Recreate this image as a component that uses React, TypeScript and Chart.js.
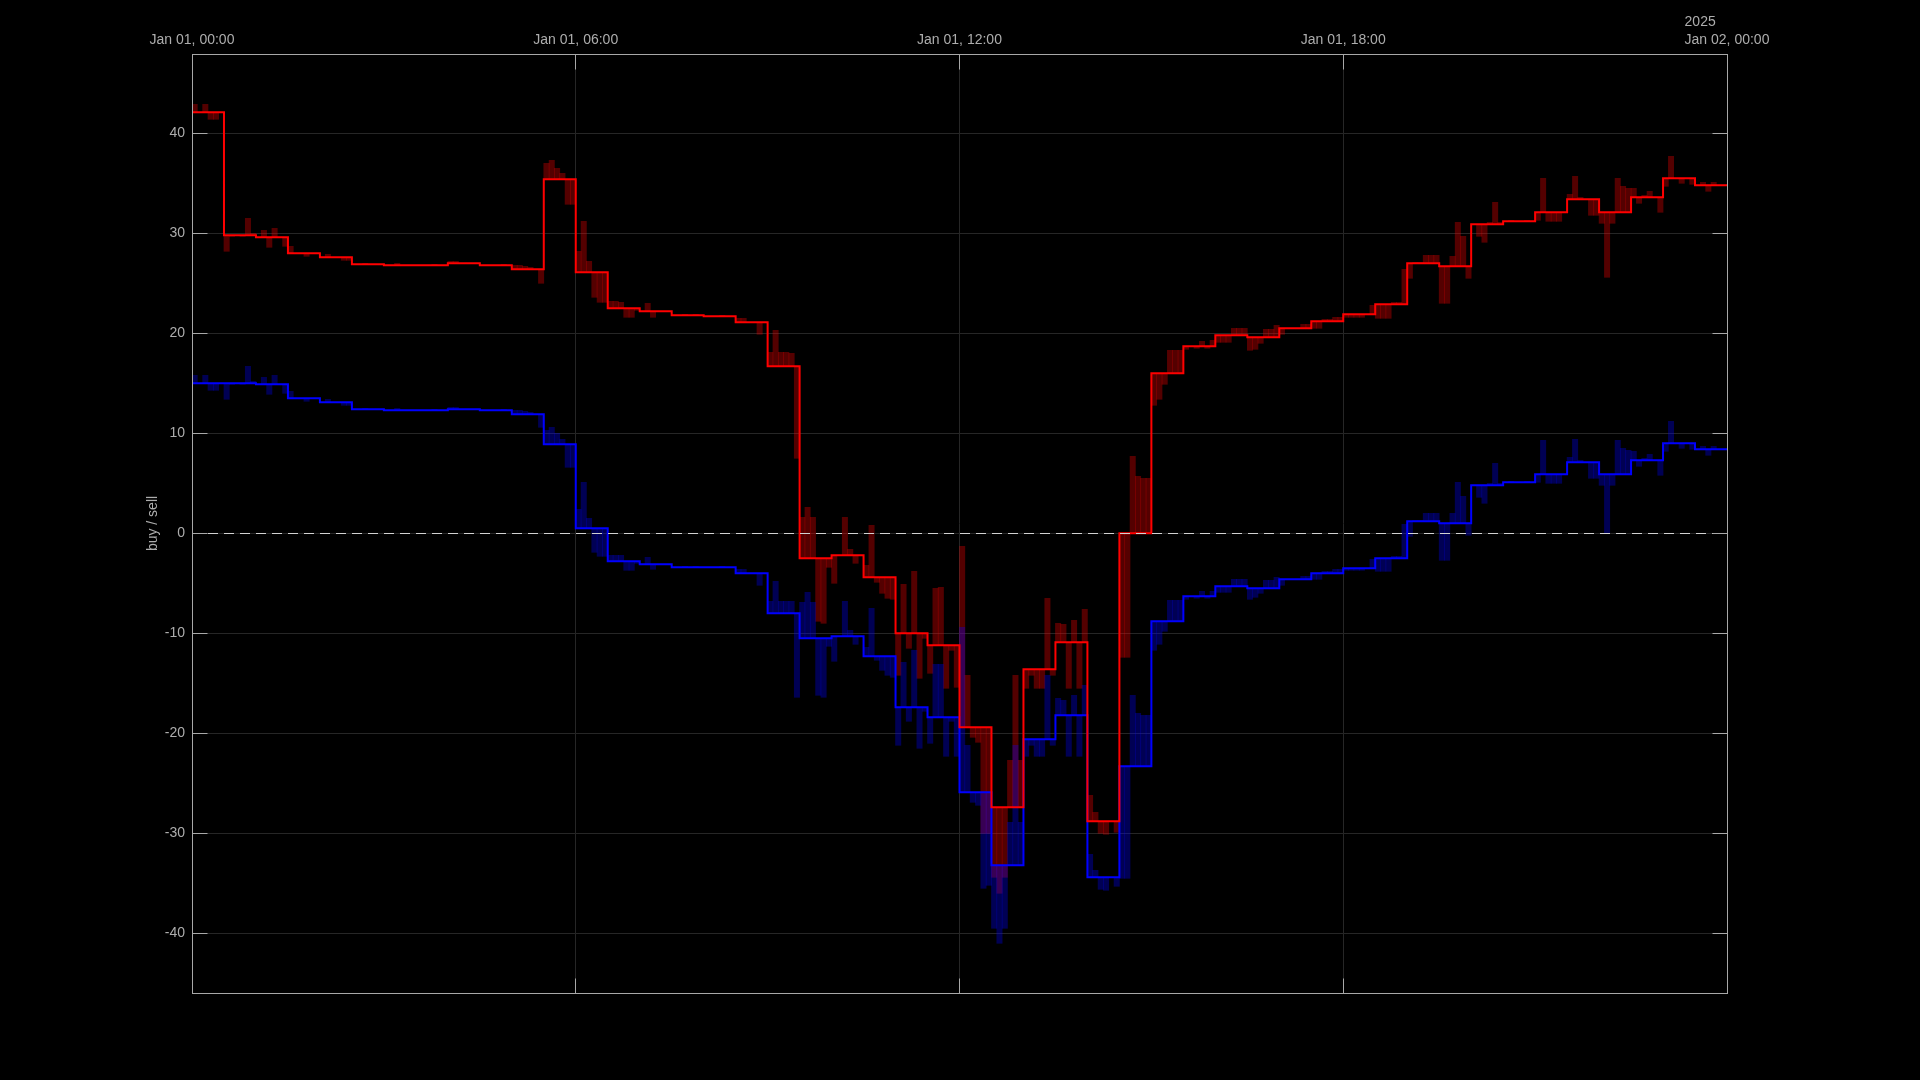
import React, { useEffect, useRef } from 'react';
import { Chart, registerables } from 'chart.js';

Chart.register(...registerables);

// ---- data (hours from Jan 01 00:00, 30-minute steps, 5-minute ticks) ----
const xTickHours = [0, 6, 12, 18, 24];
const xTickLabels = ['Jan 01, 00:00', 'Jan 01, 06:00', 'Jan 01, 12:00', 'Jan 01, 18:00', 'Jan 02, 00:00'];
const yearLabel = '2025';
const yTickValues = [-40, -30, -20, -10, 0, 10, 20, 30, 40];
const yAxisTitle = 'buy / sell';

// 30-minute step levels (48 windows)
const sellStep = [
  42.1, 29.8, 29.6, 28.0, 27.6, 26.9, 26.8, 26.8, 27.0, 26.8, 26.4, 35.4,
  26.1, 22.5, 22.2, 21.8, 21.7, 21.1, 16.7, -2.5, -2.2, -4.4, -10.0, -11.2,
  -19.4, -27.4, -13.6, -10.9, -28.8, 0.0, 16.0, 18.7, 19.8, 19.6, 20.5, 21.2,
  21.9, 22.9, 27.0, 26.7, 30.9, 31.2, 32.1, 33.4, 32.1, 33.6, 35.5, 34.8,
];
const buyStep = [
  15.0, 15.0, 14.9, 13.5, 13.1, 12.4, 12.3, 12.3, 12.4, 12.3, 11.9, 8.9,
  0.5, -2.8, -3.1, -3.4, -3.4, -4.0, -8.0, -10.5, -10.3, -12.3, -17.4, -18.4,
  -25.9, -33.2, -20.6, -18.2, -34.4, -23.3, -8.8, -6.3, -5.3, -5.5, -4.6, -4.0,
  -3.5, -2.5, 1.2, 1.0, 4.8, 5.1, 5.9, 7.1, 5.9, 7.3, 9.0, 8.4,
];

// 5-minute tick deviations from the step level (6 per window)
const sellDelta = [
  0.8, 0, 0.8, -0.7, -0.7, 0,
  -1.6, -0.1, 0, -0.1, 1.7, 0.2,
  0, 0.7, -1.0, 0.9, 0, -0.9,
  0.7, 0, 0, -0.3, 0, 0,
  0, 0.3, 0, 0, -0.3, -0.3,
  0, 0, 0.1, 0, 0, 0,
  0, 0, 0.2, 0, 0, 0,
  0, 0, 0, 0.1, 0, 0,
  0.2, 0.2, 0, 0, 0, 0,
  0, 0, 0, 0, 0.1, 0,
  0.4, 0.4, 0.3, 0.2, 0, -1.4,
  1.6, 1.9, 1.1, 0.6, -2.5, -2.5,
  2.1, 5.1, 1.1, -2.5, -3.0, -3.0,
  0.7, 0.7, 0.6, -0.9, -0.9, -0.2,
  0, 0.8, -0.6, 0, 0, 0,
  0, 0, 0.1, 0, 0.1, 0,
  0, 0, 0, 0.1, 0, 0,
  0.4, 0.4, 0, 0, -1.2, 0,
  1.4, 3.6, 1.4, 1.4, 1.3, -9.2,
  4.1, 5.1, 4.1, -6.3, -6.5, -0.9,
  -2.8, 0, 3.8, 0.6, -0.8, 0,
  1.2, 5.2, -0.5, -1.6, -2.1, -2.2,
  -4.2, 4.9, -1.5, 6.2, -4.5, -0.5,
  -2.8, 5.7, 5.8, -4.3, -0.5, -4.2,
  18.1, 5.2, -1.0, -1.5, -10.6, -10.6,
  -7.0, -8.6, -7.0, 4.7, 13.2, 4.7,
  -1.9, -0.6, -1.9, -1.9, 7.1, -0.6,
  1.9, 1.8, -4.6, 2.2, -4.6, 3.3,
  2.6, 0.9, -1.2, -1.3, 0, -1.1,
  -12.4, -12.4, 7.7, 5.7, 5.5, 5.5,
  -3.2, -2.6, -1.1, 2.3, 2.3, 2.3,
  -0.3, 0, -0.2, 0.5, -0.2, 0.6,
  -0.7, -0.7, -0.7, 0.7, 0.7, 0.7,
  -1.3, -1.2, -0.6, 0.8, 0.8, 1.2,
  -0.6, 0, 0, 0, 0.4, 0.4,
  -0.7, -0.7, 0.2, 0.2, 0.4, 0.4,
  -0.3, -0.3, -0.3, -0.3, 0, 0.9,
  -1.4, -1.4, -1.4, 0.2, 0.2, 3.5,
  -1.5, 0.1, 0.1, 0.8, 0.8, 0.8,
  -3.7, -3.7, 1.0, 4.4, 3.0, -1.2,
  0, -1.2, -1.8, 0.2, 2.2, 0.2,
  0, 0.1, 0, 0, 0.1, 0,
  -0.8, 3.4, -0.9, -0.9, -0.9, 0,
  0.5, 2.3, 0.2, 0, -1.6, -1.6,
  -1.1, -6.5, -1.1, 3.4, 2.6, 2.4,
  0.9, -0.6, 0.2, 0.6, 0, -1.5,
  -0.8, 2.2, 0, -0.5, 0, -0.6,
  0, 0.3, -0.6, 0.3, 0, 0,
];
const buyDelta = [
  0.8, 0, 0.8, -0.7, -0.7, 0,
  -1.6, -0.1, 0, -0.1, 1.7, 0.2,
  0, 0.7, -1.0, 0.9, 0, -0.9,
  0.7, 0, 0, -0.3, 0, 0,
  0, 0.3, 0, 0, -0.3, -0.3,
  0, 0, 0.1, 0, 0, 0,
  0, 0, 0.2, 0, 0, 0,
  0, 0, 0, 0.1, 0, 0,
  0.2, 0.2, 0, 0, 0, 0,
  0, 0, 0, 0, 0.1, 0,
  0.4, 0.4, 0.3, 0.2, 0, -1.3,
  1.4, 1.7, 1.1, 0.5, -2.3, -2.3,
  1.9, 4.6, 1.0, -2.4, -2.8, -2.8,
  0.6, 0.6, 0.6, -0.9, -0.9, -0.2,
  0, 0.7, -0.5, 0, 0, 0,
  0, 0, 0.1, 0, 0.1, 0,
  0, 0, 0, 0.1, 0, 0,
  0.4, 0.4, 0, 0, -1.2, 0,
  1.2, 3.2, 1.2, 1.2, 1.2, -8.4,
  3.6, 4.6, 3.6, -5.7, -5.9, -0.8,
  -2.5, 0, 3.5, 0.6, -0.8, 0,
  0.9, 4.8, -0.4, -1.4, -1.9, -2.1,
  -3.8, 4.5, -1.4, 5.7, -4.1, -0.4,
  -2.6, 5.3, 5.3, -3.9, -0.4, -3.9,
  16.5, 4.7, -1.0, -1.3, -9.6, -9.3,
  -6.3, -7.8, -6.3, 4.3, 12.0, 4.3,
  -1.7, -0.6, -1.7, -1.7, 6.4, -0.6,
  1.7, 1.5, -4.1, 2.0, -4.1, 3.0,
  2.3, 0.7, -1.2, -1.3, 0, -0.9,
  -11.2, -11.2, 7.1, 5.3, 5.1, 5.1,
  -2.9, -2.3, -1.0, 2.1, 2.1, 2.1,
  -0.3, 0, -0.2, 0.5, -0.2, 0.5,
  -0.6, -0.6, -0.6, 0.7, 0.7, 0.7,
  -1.1, -0.9, -0.5, 0.8, 0.8, 1.1,
  -0.6, 0, 0, 0, 0.3, 0.3,
  -0.6, -0.6, 0.2, 0.2, 0.4, 0.4,
  -0.2, -0.2, -0.2, -0.2, 0, 0.9,
  -1.3, -1.3, -1.3, 0.2, 0.2, 3.4,
  -1.5, 0.1, 0.1, 0.8, 0.8, 0.8,
  -3.7, -3.7, 1.0, 4.1, 2.7, -1.2,
  0, -1.2, -1.8, 0.2, 2.2, 0.2,
  0, 0.1, 0, 0, 0.1, 0,
  -0.8, 3.4, -0.9, -0.9, -0.9, 0,
  0.5, 2.3, 0.2, 0, -1.6, -1.6,
  -1.1, -5.9, -1.1, 3.4, 2.6, 2.4,
  0.9, -0.6, 0.2, 0.6, 0, -1.5,
  -0.8, 2.2, 0, -0.5, 0, -0.6,
  0, 0.3, -0.6, 0.3, 0, 0,
];

const STEP_H = 0.5;
const TICK_H = 5 / 60;
const TICKS_PER_STEP = 6;

const FONT_FAMILY = '"Liberation Sans", Arial, sans-serif';
const TEXT_COLOR = '#adadad';

function stepLine(steps: number[]) {
  const pts = steps.map((v, i) => ({ x: i * STEP_H, y: v }));
  pts.push({ x: steps.length * STEP_H, y: steps[steps.length - 1] });
  return pts;
}

function tickBars(steps: number[], deltas: number[]) {
  return deltas.map((d, i) => {
    const s = steps[Math.floor(i / TICKS_PER_STEP)];
    return { x: (i + 0.5) * TICK_H, y: [s, Math.round((s + d) * 100) / 100] };
  });
}

// same half-pixel alignment Chart.js uses for 1px grid lines
const align = (p: number) => Math.round(p - 0.5) + 0.5;

const decorPlugin = {
  id: 'decor',
  beforeDraw(chart: any) {
    const ctx = chart.ctx;
    ctx.save();
    ctx.fillStyle = '#000000';
    ctx.fillRect(0, 0, chart.width, chart.height);
    ctx.restore();
  },
  afterDraw(chart: any) {
    const { ctx, chartArea: a } = chart;
    const xs = chart.scales.x;
    const ys = chart.scales.y;
    ctx.save();
    // dashed zero line
    const yz = align(ys.getPixelForValue(0));
    ctx.strokeStyle = '#d2d2d2';
    ctx.lineWidth = 1;
    ctx.setLineDash([10, 6]);
    ctx.beginPath();
    ctx.moveTo(a.left, yz);
    ctx.lineTo(a.right, yz);
    ctx.stroke();
    ctx.setLineDash([]);
    // frame
    const L = align(a.left);
    const R = align(a.right);
    const T = align(a.top);
    const B = align(a.bottom);
    ctx.strokeStyle = '#a8a8a8';
    ctx.strokeRect(L, T, R - L, B - T);
    // inward tick marks
    ctx.beginPath();
    for (const v of yTickValues) {
      const py = align(ys.getPixelForValue(v));
      ctx.moveTo(L, py); ctx.lineTo(L + 15, py);
      ctx.moveTo(R, py); ctx.lineTo(R - 15, py);
    }
    for (const h of xTickHours) {
      const px = align(xs.getPixelForValue(h));
      ctx.moveTo(px, T); ctx.lineTo(px, T + 15);
      ctx.moveTo(px, B); ctx.lineTo(px, B - 15);
    }
    ctx.stroke();
    // year label above the last x tick label
    ctx.fillStyle = TEXT_COLOR;
    ctx.font = `14px ${FONT_FAMILY}`;
    ctx.textAlign = 'left';
    ctx.textBaseline = 'alphabetic';
    const lastLabel = xTickLabels[xTickLabels.length - 1];
    const lw = ctx.measureText(lastLabel).width;
    ctx.fillText(yearLabel, xs.getPixelForValue(xTickHours[xTickHours.length - 1]) - lw / 2, 25.5);
    // y axis title
    ctx.translate(157, (a.top + a.bottom) / 2);
    ctx.rotate(-Math.PI / 2);
    ctx.textAlign = 'center';
    ctx.fillText(yAxisTitle, 0, 0);
    ctx.restore();
  },
};

export default function App() {
  const ref = useRef<HTMLCanvasElement>(null);
  useEffect(() => {
    const canvas = ref.current;
    if (!canvas) return;
    const chart = new Chart(canvas, {
      type: 'bar',
      data: {
        datasets: [
          {
            type: 'line',
            label: 'sell',
            data: stepLine(sellStep),
            borderColor: '#ff0000',
            borderWidth: 2,
            pointRadius: 0,
            stepped: true,
            fill: false,
            order: 0,
          } as any,
          {
            type: 'line',
            label: 'buy',
            data: stepLine(buyStep),
            borderColor: '#0000ff',
            borderWidth: 2,
            pointRadius: 0,
            stepped: true,
            fill: false,
            order: 1,
          } as any,
          {
            type: 'bar',
            label: 'buy ticks',
            data: tickBars(buyStep, buyDelta),
            backgroundColor: 'rgba(0,0,255,0.33)',
            borderWidth: 0,
            grouped: false,
            barPercentage: 1,
            categoryPercentage: 1,
            order: 2,
          } as any,
          {
            type: 'bar',
            label: 'sell ticks',
            data: tickBars(sellStep, sellDelta),
            backgroundColor: 'rgba(255,0,0,0.33)',
            borderWidth: 0,
            grouped: false,
            barPercentage: 1,
            categoryPercentage: 1,
            order: 3,
          } as any,
        ],
      },
      options: {
        responsive: false,
        animation: false,
        devicePixelRatio: 1,
        layout: { padding: { left: 0, top: 0, right: 193, bottom: 87 } },
        plugins: { legend: { display: false }, tooltip: { enabled: false } },
        scales: {
          x: {
            type: 'linear',
            position: 'top',
            min: 0,
            max: 24,
            offset: false,
            afterBuildTicks: (s: any) => { s.ticks = xTickHours.map((v) => ({ value: v })); },
            afterFit: (s: any) => { s.height = 54; },
            grid: { color: '#262626', lineWidth: 1, drawTicks: false, offset: false },
            border: { display: false },
            ticks: {
              color: TEXT_COLOR,
              font: { family: FONT_FAMILY, size: 14 },
              padding: 5,
              maxRotation: 0,
              autoSkip: false,
              callback: (v: any) => {
                const i = xTickHours.indexOf(Number(v));
                return i >= 0 ? xTickLabels[i] : '';
              },
            },
          },
          y: {
            type: 'linear',
            min: -45.97,
            max: 47.93,
            afterBuildTicks: (s: any) => { s.ticks = yTickValues.map((v) => ({ value: v })); },
            afterFit: (s: any) => { s.width = 192; },
            grid: { color: '#262626', lineWidth: 1, drawTicks: false },
            border: { display: false },
            ticks: {
              color: TEXT_COLOR,
              font: { family: FONT_FAMILY, size: 14 },
              padding: 7,
              callback: (v: any) => String(v),
            },
          },
        },
      } as any,
      plugins: [decorPlugin],
    });
    return () => chart.destroy();
  }, []);

  return (
    <div style={{ position: 'absolute', left: 0, top: 0, width: 1920, height: 1080, background: '#000' }}>
      <canvas ref={ref} width={1920} height={1080} style={{ display: 'block' }} />
    </div>
  );
}
